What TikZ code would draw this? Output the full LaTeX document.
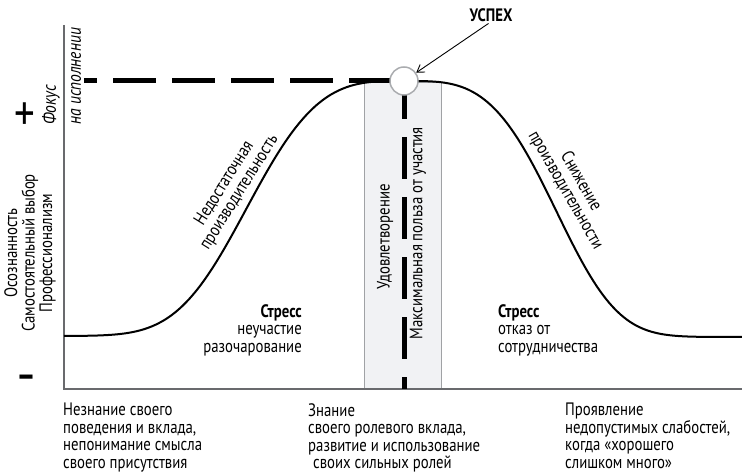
\documentclass[tikz,border=0pt]{standalone}
\usepackage{fontspec}
\setmainfont{PT Sans}[FakeStretch=0.82]
\usepackage{xcolor}
\usetikzlibrary{arrows.meta,positioning}
\definecolor{axisgray}{RGB}{105,106,109}
\definecolor{boxgray}{RGB}{241,242,244}
\definecolor{boxline}{RGB}{160,162,165}
\definecolor{dotline}{RGB}{170,172,175}
\tikzset{
  axisline/.style={line width=2pt,draw=axisgray},
  curveline/.style={line width=2pt,draw=black},
  hdash/.style={line width=5pt,dash pattern=on 43pt off 16pt,dash phase=30pt},
  vdash/.style={line width=5pt,dash pattern=on 42pt off 18pt,dash phase=4pt},
  satbox/.style={rectangle,draw=boxline,fill=boxgray,line width=1.2pt,inner sep=0pt},
  peakdot/.style={circle,draw=dotline,fill=white,line width=1.5pt,minimum size=28pt,inner sep=0pt},
  pointer/.style={-{Straight Barb[length=7pt,width=9pt]},line width=0.9pt},
  lbl/.style={font=\fontsize{18}{17.5}\selectfont,inner sep=0pt},
  lblbold/.style={font=\fontsize{18}{17.5}\selectfont\bfseries,inner sep=0pt},
  lblit/.style={font=\fontsize{19}{19}\selectfont\itshape,inner sep=0pt},
  sign/.style={font=\fontsize{50}{50}\selectfont,inner sep=0pt}
}

\begin{document}
\begin{tikzpicture}[x=1pt,y=-1pt]
  \useasboundingbox (0,0) rectangle (742,476);

  \coordinate (ytop) at (64,25);
  \coordinate (origin) at (64,389);
  \coordinate (xend) at (742,389);
  \coordinate (top) at (404,81);
  \coordinate (hstart) at (84,81);

  \node[satbox,minimum width=77pt,minimum height=307pt,anchor=north west] (sat) at (364,82) {};

  \draw[axisline] (ytop) -- (origin) -- (xend);
  \draw[curveline] plot[domain=64:404,samples=90,smooth]
    (\x,{336-255*exp(-((abs(\x-404)+0.01)/176)^3.3)});
  \draw[curveline] plot[domain=404:742,samples=90,smooth]
    (\x,{337-256*exp(-((abs(\x-404)+0.01)/168)^3.5)});

  \draw[hdash] (hstart) -- (top);
  \draw[vdash] (top) -- (top|-origin);
  \node[peakdot] (peak) at (top) {};

  \node[lblbold] (success) at (491,15) {УСПЕХ};
  \draw[pointer,shorten <=3pt] (success.south) -- (peak);

  % axis labels
  \node[sign] (plus) at (25,117) {+};
  \node[sign,font=\fontsize{36}{36}\selectfont\bfseries] (minus) at (26,381) {–};
  \node[lbl,rotate=90,align=center] (ylabel) at (30,253)
    {Осознанность\\Самостоятельный выбор\\Профессионализм};
  \node[lblit,rotate=90,anchor=west] (focus) at (51,125) {Фокус};
  \node[lblit,rotate=90,anchor=west] (focusb) at (76,125) {на исполнении};

  % along the curve
  \node[lbl,rotate=58,align=center] (lowperf) at (232,188)
    {Недостаточная\\производительность};
  \node[lbl,rotate=-60,align=center] (dropperf) at (573,186)
    {Снижение\\производительности};
  \node[lbl,rotate=90] (satisf) at (385,237) {Удовлетворение};
  \node[lbl,rotate=90] (benefit) at (418,233) {Максимальная польза от участия};

  \node[lbl,align=right,anchor=north east] (stressleft) at (302,304)
    {\textbf{Стресс}\\неучастие\\разочарование};
  \node[lbl,align=left,anchor=north west] (stressright) at (498,304)
    {\textbf{Стресс}\\отказ от\\сотрудничества};

  % under the axis
  \node[lbl,align=left,anchor=north west] (ignorance) at (63,403)
    {Незнание своего\\поведения и вклада,\\непонимание смысла\\своего присутствия};
  \node[lbl,align=left,anchor=north west] (knowledge) at (308,403)
    {Знание\\своего ролевого вклада,\\развитие и использование\\\hspace{5pt}своих сильных ролей};
  \node[lbl,align=left,anchor=north west] (excess) at (565,403)
    {Проявление\\недопустимых слабостей,\\когда «хорошего\\слишком много»};
\end{tikzpicture}
\end{document}
